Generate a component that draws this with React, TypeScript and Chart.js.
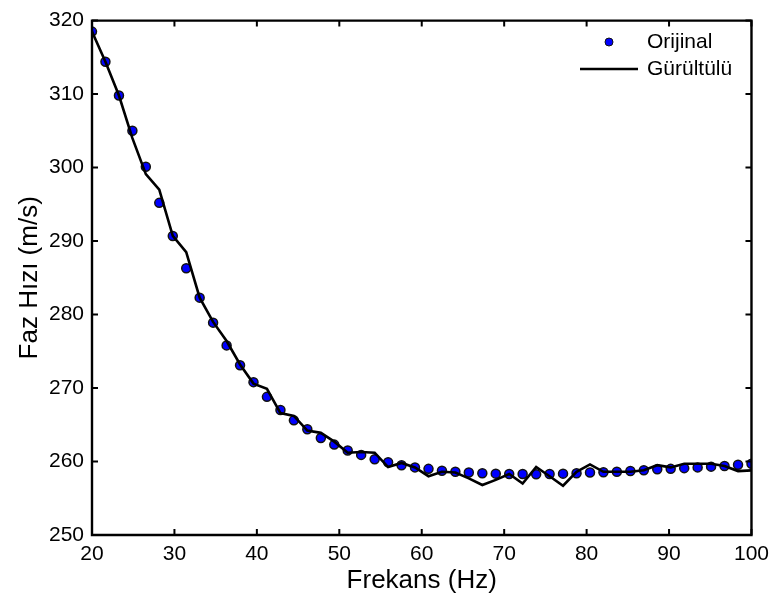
import React, { useEffect, useRef } from "react";
import { Chart, registerables } from "chart.js";

Chart.register(...registerables);

// Frequency samples: 50 evenly spaced values from 20 to 100 Hz
const frequencies: number[] = [
  20.0, 21.63, 23.27, 24.9, 26.53, 28.16, 29.8, 31.43, 33.06, 34.69,
  36.33, 37.96, 39.59, 41.22, 42.86, 44.49, 46.12, 47.76, 49.39, 51.02,
  52.65, 54.29, 55.92, 57.55, 59.18, 60.82, 62.45, 64.08, 65.71, 67.35,
  68.98, 70.61, 72.24, 73.88, 75.51, 77.14, 78.78, 80.41, 82.04, 83.67,
  85.31, 86.94, 88.57, 90.2, 91.84, 93.47, 95.1, 96.73, 98.37, 100.0,
];

const originalSpeed: number[] = [
  318.5, 314.4, 309.8, 305.0, 300.1, 295.2, 290.7, 286.3, 282.3, 278.9,
  275.8, 273.1, 270.8, 268.8, 267.0, 265.6, 264.4, 263.2, 262.3, 261.5,
  260.9, 260.3, 259.9, 259.5, 259.2, 259.0, 258.75, 258.6, 258.5, 258.4,
  258.35, 258.3, 258.3, 258.25, 258.3, 258.35, 258.4, 258.5, 258.55, 258.6,
  258.7, 258.8, 258.95, 259.0, 259.1, 259.2, 259.3, 259.4, 259.55, 259.7,
];

const noisySpeed: number[] = [
  318.5, 314.4, 309.8, 304.0, 299.1, 297.0, 290.7, 288.5, 282.3, 279.0,
  276.4, 273.2, 270.6, 269.9, 266.6, 266.2, 264.2, 263.9, 262.7, 261.2,
  261.3, 261.2, 259.25, 259.8, 259.2, 258.0, 258.6, 258.5, 257.7, 256.8,
  257.5, 258.3, 257.0, 259.25, 258.0, 256.7, 258.6, 259.6, 258.6, 258.6,
  258.6, 258.8, 259.5, 259.2, 259.7, 259.7, 259.7, 259.4, 258.7, 258.8,
];

const xTicks: number[] = [20, 30, 40, 50, 60, 70, 80, 90, 100];
const yTicks: number[] = [250, 260, 270, 280, 290, 300, 310, 320];

const seriesLabels: string[] = ["Orijinal", "Gürültülü"];
const xTitle = "Frekans (Hz)";
const yTitle = "Faz Hızı (m/s)";

const FONT = "'Liberation Sans', Arial, Helvetica, sans-serif";

const boxPlugin = {
  id: "matlabBox",
  afterDatasetsDraw(chart: any) {
    const { ctx, chartArea } = chart;
    const { left, right, top, bottom } = chartArea;
    const xs = chart.scales.x;
    const ys = chart.scales.y;
    ctx.save();
    ctx.strokeStyle = "#000";
    ctx.lineWidth = 2.4;
    ctx.beginPath();
    ctx.rect(left, top, right - left, bottom - top);
    ctx.stroke();
    const tl = 6;
    ctx.lineWidth = 2;
    ctx.beginPath();
    xTicks.forEach((v) => {
      const p = xs.getPixelForValue(v);
      ctx.moveTo(p, bottom);
      ctx.lineTo(p, bottom - tl);
      ctx.moveTo(p, top);
      ctx.lineTo(p, top + tl);
    });
    yTicks.forEach((v) => {
      const p = ys.getPixelForValue(v);
      ctx.moveTo(left, p);
      ctx.lineTo(left + tl, p);
      ctx.moveTo(right, p);
      ctx.lineTo(right - tl, p);
    });
    ctx.stroke();

    // legend
    const ds0 = chart.data.datasets[1];
    const ds1 = chart.data.datasets[0];
    ctx.font = `21px ${FONT}`;
    ctx.textBaseline = "middle";
    ctx.textAlign = "left";
    ctx.fillStyle = "#000";
    const textX = 647;
    const y1 = 42;
    const y2 = 69;
    ctx.beginPath();
    ctx.arc(609, y1, 4, 0, Math.PI * 2);
    ctx.fillStyle = ds0.backgroundColor;
    ctx.fill();
    ctx.lineWidth = 1;
    ctx.strokeStyle = ds0.borderColor;
    ctx.stroke();
    ctx.fillStyle = "#000";
    ctx.fillText(ds0.label, textX, y1);
    ctx.beginPath();
    ctx.moveTo(580, y2);
    ctx.lineTo(638, y2);
    ctx.lineWidth = 2.5;
    ctx.strokeStyle = ds1.borderColor;
    ctx.stroke();
    ctx.fillText(ds1.label, textX, y2);
    ctx.restore();
  },
};

export default function App() {
  const canvasRef = useRef<HTMLCanvasElement | null>(null);

  useEffect(() => {
    if (!canvasRef.current) return;
    const chart = new Chart(canvasRef.current, {
      type: "scatter",
      data: {
        datasets: [
          {
            type: "line",
            label: seriesLabels[1],
            data: frequencies.map((f, i) => ({ x: f, y: noisySpeed[i] })),
            borderColor: "#000000",
            backgroundColor: "#000000",
            borderWidth: 2.6,
            pointRadius: 0,
            tension: 0,
            order: 0,
          } as any,
          {
            type: "scatter",
            label: seriesLabels[0],
            data: frequencies.map((f, i) => ({ x: f, y: originalSpeed[i] })),
            backgroundColor: "#0000ff",
            borderColor: "#111111",
            borderWidth: 1.5,
            pointRadius: 4.5,
            order: 1,
          } as any,
        ],
      },
      options: {
        responsive: false,
        animation: false,
        layout: { padding: { left: 0, right: 22, top: 13, bottom: 0 } },
        plugins: {
          legend: { display: false },
          tooltip: { enabled: false },
        },
        scales: {
          x: {
            type: "linear",
            min: 20,
            max: 100,
            afterFit: (s: any) => {
              s.height = 66;
            },
            afterBuildTicks: (s: any) => {
              s.ticks = xTicks.map((v) => ({ value: v }));
            },
            grid: { display: false, drawTicks: false },
            border: { display: false },
            ticks: {
              color: "#000",
              padding: 7,
              maxRotation: 0,
              font: { family: FONT, size: 21 },
            },
            title: {
              display: true,
              text: xTitle,
              color: "#000",
              font: { family: FONT, size: 26 },
              padding: { top: 0, bottom: 5 },
            },
          },
          y: {
            type: "linear",
            min: 250,
            max: 320,
            afterFit: (s: any) => {
              s.width = 92;
            },
            afterBuildTicks: (s: any) => {
              s.ticks = yTicks.map((v) => ({ value: v }));
            },
            grid: { display: false, drawTicks: false },
            border: { display: false },
            ticks: {
              color: "#000",
              padding: 8,
              font: { family: FONT, size: 21 },
            },
            title: {
              display: true,
              text: yTitle,
              color: "#000",
              font: { family: FONT, size: 26 },
              padding: { top: 14, bottom: 0 },
            },
          },
        },
      },
      plugins: [boxPlugin],
    });
    return () => chart.destroy();
  }, []);

  return (
    <div style={{ position: "absolute", left: 0, top: 0, width: 776, height: 601, background: "#fff" }}>
      <canvas ref={canvasRef} width={776} height={601} />
    </div>
  );
}
